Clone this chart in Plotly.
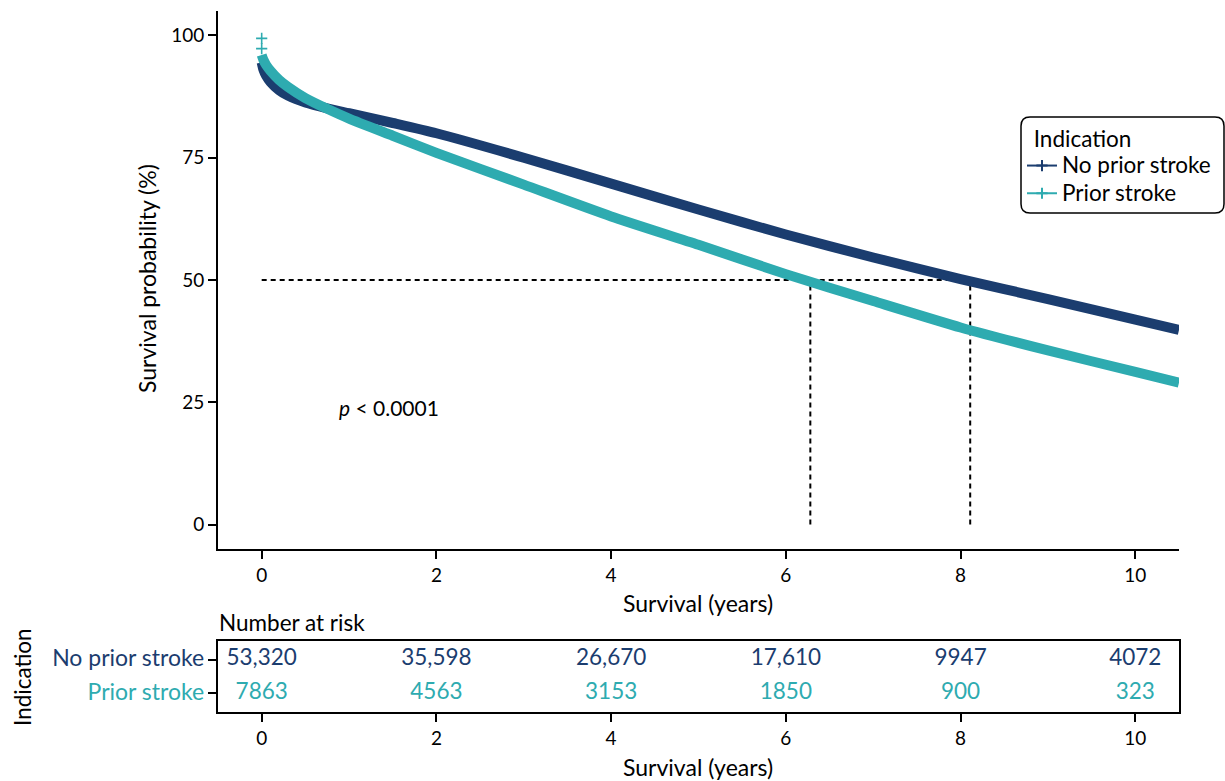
import plotly.graph_objects as go

# ---------------- data ----------------
groups = ["No prior stroke", "Prior stroke"]
colors = ["#1B3D6F", "#2EABB0"]

time_pts = [0, 0.02, 0.05, 0.1, 0.2, 0.3, 0.5, 0.75, 1.0, 1.5, 2, 3, 4, 5, 6, 7, 8, 9, 10, 10.5]
surv_no_prior = [94.5, 93.0, 91.8, 90.5, 88.8, 87.7, 86.3, 85.1, 84.1, 82.1, 80.0, 75.0, 69.7,
                 64.4, 59.3, 54.6, 50.2, 46.1, 41.9, 39.8]
surv_prior = [96.0, 95.0, 94.0, 92.8, 90.9, 89.5, 87.2, 85.0, 83.0, 79.5, 76.0, 69.5, 63.0,
              57.2, 51.2, 45.7, 40.3, 35.6, 31.2, 29.0]

censor_prior_t = [0, 0]
censor_prior_s = [99.4, 97.3]

median_times = [6.28, 8.11]
median_level = 50

risk_times = [0, 2, 4, 6, 8, 10]
risk_no_prior = ["53,320", "35,598", "26,670", "17,610", "9947", "4072"]
risk_prior = ["7863", "4563", "3153", "1850", "900", "323"]

x_ticks = [0, 2, 4, 6, 8, 10]
y_ticks = [0, 25, 50, 75, 100]

# ---------------- layout constants ----------------
W, H = 1225, 781
ML, MR, MT, MB = 218, 46, 11, 69
PW, PH = W - ML - MR, H - MT - MB


def px_x(p):
    return (p - ML) / PW


def px_y(p):
    return (H - MB - p) / PH


FONT = "Lato, 'Noto Sans', sans-serif"
FS_TICK = 19
FS_TEXT = 22.5

fig = go.Figure()

# median dashed lines
fig.add_trace(go.Scatter(x=[0, max(median_times)], y=[median_level, median_level], mode="lines",
                         line=dict(color="black", width=2, dash="5px,4px"),
                         showlegend=False, hoverinfo="skip"))
for mt in median_times:
    fig.add_trace(go.Scatter(x=[mt, mt], y=[0, median_level], mode="lines",
                             line=dict(color="black", width=2, dash="5px,4px"),
                             showlegend=False, hoverinfo="skip"))

# survival curves
for s, c in zip([surv_no_prior, surv_prior], colors):
    fig.add_trace(go.Scatter(x=time_pts, y=s, mode="lines",
                             line=dict(color=c, width=10, shape="spline", smoothing=0.6),
                             showlegend=False))

# censor marks
fig.add_trace(go.Scatter(x=censor_prior_t, y=censor_prior_s, mode="markers",
                         marker=dict(symbol="cross-thin", size=8, line=dict(color=colors[1], width=1.6)),
                         showlegend=False))

# legend entries
for g, c in zip(groups, colors):
    fig.add_trace(go.Scatter(x=[None], y=[None], mode="lines+markers",
                             name=f'<span style="font-size:22.5px">{g}</span>',
                             line=dict(color=c, width=2),
                             marker=dict(symbol="cross-thin", size=8, line=dict(color=c, width=2))))

# risk table text
for vals, c, yv in [(risk_no_prior, colors[0], 2), (risk_prior, colors[1], 1)]:
    fig.add_trace(go.Scatter(x=risk_times, y=[yv] * len(risk_times), mode="text", text=vals,
                             textfont=dict(color=c, size=FS_TEXT, family=FONT),
                             xaxis="x2", yaxis="y2", showlegend=False, hoverinfo="skip"))

axis_common = dict(showgrid=False, zeroline=False, showline=True, linecolor="black", linewidth=2,
                   ticks="outside", ticklen=8, tickwidth=1.5, tickcolor="black",
                   tickfont=dict(size=FS_TICK, color="black", family=FONT), automargin=False)

main_bottom = px_y(549)
table_top = px_y(641)

fig.update_layout(
    width=W, height=H,
    margin=dict(l=ML, r=MR, t=MT, b=MB, autoexpand=False),
    paper_bgcolor="white", plot_bgcolor="white",
    font=dict(family=FONT, size=FS_TICK, color="black"),
    xaxis=dict(range=[-0.5, 10.5], tickvals=x_ticks, domain=[0, 1], anchor="y", **axis_common),
    yaxis=dict(range=[-5, 105], tickvals=y_ticks, domain=[main_bottom, 1], anchor="x", **axis_common),
    xaxis2=dict(range=[-0.5, 10.5], tickvals=x_ticks, domain=[0, 1], anchor="y2", mirror=True, **axis_common),
    yaxis2=dict(range=[0.43, 2.56], tickvals=[2, 1],
                ticktext=[f'<span style="color:{colors[0]};font-size:23px">{groups[0]}</span>',
                          f'<span style="color:{colors[1]};font-size:23px">{groups[1]}</span>'],
                domain=[0, table_top], anchor="x2", mirror=True, **axis_common),
    legend=dict(x=px_x(1022), y=px_y(122), xanchor="left", yanchor="top",
                bgcolor="rgba(0,0,0,0)", borderwidth=0,
                title=dict(text='&nbsp;&nbsp;<span style="font-size:22.5px">Indication</span>',
                           font=dict(size=19, family=FONT)),
                font=dict(size=19, family=FONT), itemwidth=30, tracegroupgap=0),
    showlegend=True,
)

# rounded legend box
x0, x1 = px_x(1021), px_x(1224)
y0, y1 = px_y(213), px_y(117)
rx, ry = 9 / PW, 9 / PH
path = (f"M {x0+rx},{y0} L {x1-rx},{y0} Q {x1},{y0} {x1},{y0+ry} L {x1},{y1-ry} "
        f"Q {x1},{y1} {x1-rx},{y1} L {x0+rx},{y1} Q {x0},{y1} {x0},{y1-ry} "
        f"L {x0},{y0+ry} Q {x0},{y0} {x0+rx},{y0} Z")
fig.add_shape(type="path", path=path, xref="paper", yref="paper",
              line=dict(color="black", width=1.5), fillcolor="rgba(0,0,0,0)")


def ann(size):
    return dict(showarrow=False, font=dict(size=size, color="black", family=FONT))


fig.add_annotation(text="Survival probability (%)", xref="paper", yref="paper",
                   x=px_x(147), y=px_y(279), textangle=-90, xanchor="center", yanchor="middle", **ann(23))
fig.add_annotation(text="Survival (years)", xref="paper", yref="paper",
                   x=px_x(698), y=px_y(603), xanchor="center", yanchor="middle", **ann(23))
fig.add_annotation(text="Survival (years)", xref="paper", yref="paper",
                   x=px_x(698), y=px_y(767), xanchor="center", yanchor="middle", **ann(23))
fig.add_annotation(text="Number at risk", xref="paper", yref="paper",
                   x=px_x(217), y=px_y(622), xanchor="left", yanchor="middle", **ann(22.5))
fig.add_annotation(text="Indication", xref="paper", yref="paper",
                   x=px_x(22), y=px_y(677), textangle=-90, xanchor="center", yanchor="middle", **ann(22.5))
fig.add_annotation(text="<i>p</i> < 0.0001", xref="x", yref="y",
                   x=1.455, y=24.0, xanchor="center", yanchor="middle", **ann(21))

fig.write_html("out.html", config={"displayModeBar": False},
               post_script="document.body.style.margin='0';")
